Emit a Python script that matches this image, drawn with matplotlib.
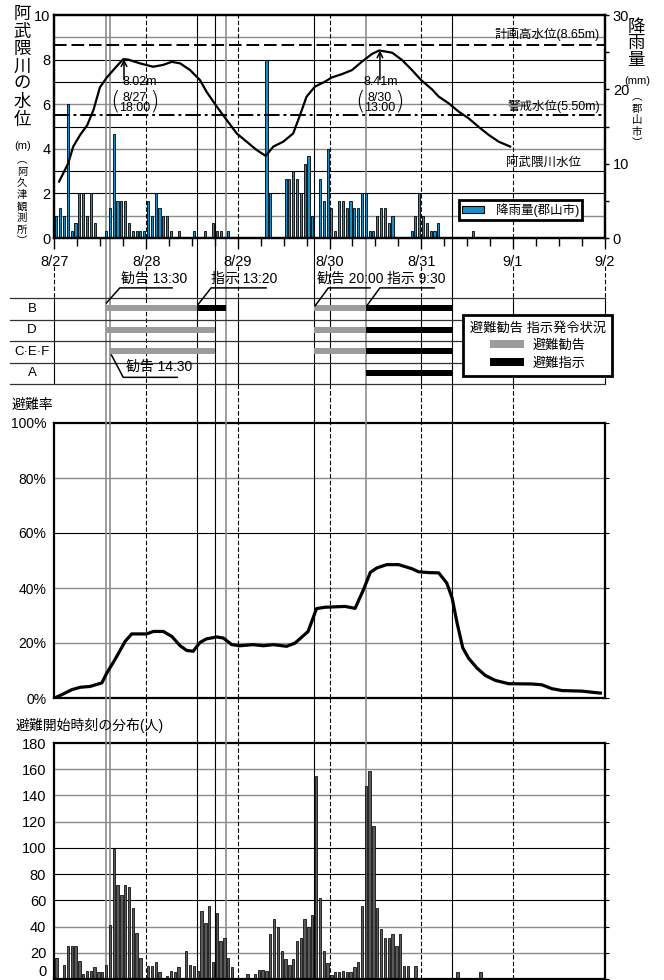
import matplotlib
matplotlib.use("Agg")
import matplotlib.pyplot as plt
from matplotlib.lines import Line2D
from matplotlib.patches import Patch
from matplotlib.transforms import blended_transform_factory

plt.rcParams["font.family"] = ["Liberation Sans", "Noto Sans CJK JP"]
plt.rcParams["axes.unicode_minus"] = False

W, H = 664, 980

# ------------------------------------------------------------------
# データ (時刻はすべて 8/27 0:00 からの経過時間[h])
# ------------------------------------------------------------------
day_labels = ["8/27", "8/28", "8/29", "8/30", "8/31", "9/1", "9/2"]

# 阿武隈川水位 (阿久津観測所) [m]
level_hours = [1.2, 3.6, 4.9, 6.7, 8.6, 10.2, 11.9, 13.7, 15.8, 18.0,
               19.3, 22.4, 25.8, 28.4, 30.7, 32.9, 35.5, 38.1, 39.8, 42.5,
               45.1, 46.4, 47.7, 50.3, 52.9, 55.3, 57.3, 59.9, 62.5, 64.3,
               66.0, 68.2, 70.8, 72.6, 75.3, 77.9, 80.5, 83.1, 85.0, 88.4,
               91.0, 93.6, 96.0, 98.8, 100.6, 103.2, 105.8, 108.4, 111.0, 113.7,
               116.3, 119.3]
level_m = [2.53, 3.35, 4.10, 4.62, 5.07, 5.74, 6.76, 7.20, 7.61, 8.02,
           8.00, 7.83, 7.68, 7.76, 7.90, 7.83, 7.53, 7.08, 6.56, 5.89,
           5.29, 4.99, 4.69, 4.32, 3.95, 3.68, 4.10, 4.32, 4.69, 5.52,
           6.34, 6.79, 7.01, 7.20, 7.35, 7.53, 7.91, 8.25, 8.41, 8.31,
           7.98, 7.53, 7.08, 6.67, 6.34, 6.04, 5.67, 5.37, 4.99, 4.62,
           4.32, 4.10]

# 時間降雨量 (郡山市) [mm]
rain_hours = [0, 1, 2, 3, 4, 5, 6, 7, 8, 9, 10,
              13, 14, 15, 16, 17, 18, 19, 20, 21, 22, 23, 24, 25, 26, 27, 28, 29, 30,
              32, 36, 39, 41, 42, 43, 45, 55, 56,
              60, 61, 62, 63, 64, 65, 66, 67,
              69, 70, 71, 72, 73, 74, 75, 76, 77, 78, 79, 80, 81, 82, 83, 84, 85, 86, 87, 88,
              93, 94, 95, 96, 97, 98, 99, 100, 109]
rain_mm = [3, 4, 3, 18, 1, 2, 6, 6, 3, 6, 2,
           1, 4, 14, 5, 5, 5, 2, 1, 1, 1, 1, 5, 3, 6, 4, 3, 3, 1,
           1, 1, 1, 2, 1, 1, 1, 24, 6,
           8, 8, 9, 8, 6, 10, 11, 3,
           8, 5, 12, 4, 1, 5, 5, 4, 5, 4, 4, 6, 6, 1, 1, 3, 4, 4, 2, 3,
           1, 3, 6, 3, 2, 1, 1, 2, 1]

# 避難率 [%]
rate_hours = [0, 1.9, 4.5, 6.7, 9.3, 12.4, 13.7, 15.8, 18.5, 20.2,
              24.1, 25.9, 28.5, 30.7, 32.9, 34.6, 36.3, 38.1, 39.8, 42.5,
              44.2, 46.4, 48.6, 52.0, 54.7, 57.3, 60.8, 63.0, 66.4, 68.6,
              70.8, 72.6, 76.1, 78.7, 80.9, 82.7, 84.4, 87.0, 90.1, 93.6,
              95.3, 98.0, 100.6, 102.7, 104.1, 105.4, 106.9, 108.4, 110.6, 112.8,
              115.4, 118.9, 125.0, 127.6, 130.2, 132.9, 138.1, 140.7, 142.9]
rate_pct = [0, 1.2, 3.0, 3.9, 4.2, 5.5, 9.1, 13.9, 20.6, 23.3,
            23.3, 24.2, 24.2, 22.4, 19.0, 17.3, 17.0, 20.2, 21.5, 22.2,
            21.8, 19.4, 19.0, 19.4, 19.0, 19.4, 18.8, 20.0, 24.2, 32.5,
            33.0, 33.1, 33.3, 32.6, 39.4, 45.7, 47.3, 48.5, 48.5, 47.0,
            45.9, 45.6, 45.5, 41.8, 36.4, 27.3, 18.2, 14.5, 10.9, 8.2,
            6.4, 5.2, 5.1, 4.8, 3.4, 2.7, 2.5, 2.1, 1.8]

# 避難開始時刻の分布 [人/時]
start_hours = [0, 2, 3, 4, 5, 6, 7, 8, 9, 10, 11, 12, 13, 14, 15, 16, 17, 18, 19, 20, 21, 22,
               24, 25, 26, 27, 29, 30, 31, 32, 34, 35, 36, 37, 38, 39, 40, 41, 42, 43, 44, 45, 46,
               50, 52, 53, 54, 55, 56, 57, 58, 59, 60, 61, 62, 63, 64, 65, 66, 67, 68, 69, 70, 71,
               72, 73, 74, 75, 76, 77, 78, 79, 80, 81, 82, 83, 84, 85, 86, 87, 88, 89, 90, 91, 92,
               94, 105, 111]
start_people = [16, 11, 25, 25, 25, 14, 4, 6, 6, 9, 5, 5, 11, 41, 99, 72, 64, 72, 70, 54, 35, 16,
                10, 10, 13, 5, 2, 6, 5, 9, 21, 11, 10, 6, 52, 43, 56, 13, 50, 29, 31, 16, 9,
                4, 4, 7, 7, 6, 34, 46, 40, 21, 15, 11, 15, 29, 31, 46, 40, 49, 155, 62, 21, 12,
                3, 5, 5, 6, 5, 5, 9, 13, 56, 147, 159, 117, 54, 38, 31, 31, 34, 25, 34, 10, 10,
                10, 5, 5]

# 避難勧告・指示の発令状況
area_rows = ["B", "D", "C·E·F", "A"]
advice_row = ["B", "D", "C·E·F", "B", "D", "C·E·F"]
advice_start = [13.5, 13.5, 14.5, 68, 68, 68]
advice_end = [37.33, 42, 42, 81.5, 81.5, 81.5]
order_row = ["B", "B", "D", "C·E·F", "A"]
order_start = [37.33, 81.5, 81.5, 81.5, 81.5]
order_end = [45, 104, 104, 104, 104]

# 縦の時刻線 (発令時刻など)
event_hours = [13.5, 14.5, 37.33, 42, 45, 68, 81.5, 104]
event_gray = [True, True, False, False, True, False, True, False]

BLUE = "#1890c6"
GRAY = "#8c8c8c"
BAR_GRAY = "#9b9b9b"

fig = plt.figure(figsize=(W / 100, H / 100), dpi=100)


def px_axes(x0, y0, x1, y1):
    return fig.add_axes([x0 / W, 1 - y1 / H, (x1 - x0) / W, (y1 - y0) / H])


def fy(y):
    return 1 - y / H


X0, X1 = 54.5, 604.5


def style_spines(ax):
    for s in ax.spines.values():
        s.set_linewidth(1.6)


def vlines_in(ax):
    for h in range(24, 144, 24):
        ax.axvline(h, color="black", lw=0.8, ls=(0, (4, 2)), zorder=0.6)
    for h, g in zip(event_hours, event_gray):
        ax.axvline(h, color=GRAY if g else "black", lw=1.2 if g else 0.8, zorder=0.6)


# ------------------------------------------------------------------
# 上段: 水位と降雨量
# ------------------------------------------------------------------
ax_lv = px_axes(X0, 15, X1, 238)
ax_rain = ax_lv.twinx()
ax_rain.set_zorder(1)
ax_lv.set_zorder(2)
ax_lv.patch.set_visible(False)
ax_rain.patch.set_visible(True)
ax_rain.patch.set_facecolor("white")

ax_lv.set_xlim(0, 144)
ax_lv.set_ylim(0, 10)
ax_rain.set_ylim(0, 30)

grid_gray = [True, False, False, True, False, True, False, False, True]
for k, g in zip(range(1, 10), grid_gray):
    ax_rain.axhline(k * 3, color=GRAY if g else "black", lw=1.0 if g else 0.8, zorder=0.5)
vlines_in(ax_rain)

rain_bars = ax_rain.bar([h + 0.5 for h in rain_hours], rain_mm, width=0.55, color=BLUE,
                        edgecolor="black", linewidth=0.6, zorder=2)

ax_lv.plot(level_hours, level_m, color="black", lw=1.6, zorder=3)
ax_lv.axhline(8.65, color="black", lw=1.4, ls=(0, (6.5, 2.5)), zorder=2)
ax_lv.axhline(5.5, color="black", lw=1.4, ls=(0, (8, 2, 1.5, 2)), zorder=2)

ax_lv.set_yticks(range(0, 11, 2))
ax_lv.tick_params(axis="y", length=0, pad=3, labelsize=10.5)
ax_lv.set_xticks(range(0, 145, 24))
ax_lv.set_xticklabels(day_labels)
ax_lv.set_xticks(range(0, 145, 6), minor=True)
ax_lv.tick_params(axis="x", which="major", direction="out", length=8, width=1, pad=4,
                  labelsize=10.5)
ax_lv.tick_params(axis="x", which="minor", direction="out", length=6, width=1)

ax_rain.set_yticks([0, 10, 20, 30])
ax_rain.set_yticks([5, 15, 25], minor=True)
ax_rain.tick_params(axis="y", which="both", direction="out", length=3, width=1, pad=3,
                    labelsize=10.5)
style_spines(ax_lv)
style_spines(ax_rain)

ax_lv.text(142.8, 9.15, "計画高水位(8.65m)", ha="right", va="center", fontsize=9)
ax_lv.text(142.8, 5.92, "警戒水位(5.50m)", ha="right", va="center", fontsize=9)
ax_lv.text(127.9, 3.38, "阿武隈川水位", ha="center", va="center", fontsize=9)

# ピーク注記
peaks = [(18.0, 8.02, "8.02m", "8/27", "18:00", 22.25, 16.0, 26.2),
         (85.0, 8.41, "8.41m", "8/30", "13:00", 85.5, 80.1, 90.2)]
for ph, pv, val, day, tm, tx, lpx, rpx in peaks:
    ax_lv.annotate("", xy=(ph + 0.2, pv), xytext=(ph + 0.2, 7.1),
                   arrowprops=dict(arrowstyle="->", color="black", lw=1.1,
                                   shrinkA=0, shrinkB=0), zorder=4)
    ax_lv.text(tx, 6.98, val, ha="center", va="center", fontsize=9)
    ax_lv.text((lpx + rpx) / 2, 6.3, day, ha="center", va="center", fontsize=9)
    ax_lv.text((lpx + rpx) / 2, 5.82, tm, ha="center", va="center", fontsize=9)
    ax_lv.text(lpx, 6.1, "(", ha="center", va="center", fontsize=18,
               family="DejaVu Sans", fontweight="light")
    ax_lv.text(rpx, 6.1, ")", ha="center", va="center", fontsize=18,
               family="DejaVu Sans", fontweight="light")

leg1 = ax_lv.legend([Patch(facecolor=BLUE, edgecolor="black", linewidth=0.8)],
                    ["降雨量(郡山市)"], loc="lower left",
                    bbox_to_anchor=((458.7 - X0) / (X1 - X0), (238 - 220) / 223),
                    borderaxespad=0, fontsize=9, handlelength=1.8, handleheight=0.45,
                    handletextpad=0.9, borderpad=0.25, fancybox=False, framealpha=1,
                    edgecolor="black")
leg1.get_frame().set_linewidth(2)

# 軸ラベル (縦書き)
def vtext(chars, x, y0, step, size):
    for i, c in enumerate(chars):
        fig.text(x / W, fy(y0 + i * step), c, ha="center", va="center", fontsize=size)


vtext("阿武隈川の水位", 22, 14, 17.6, 12.5)
fig.text(23 / W, fy(146), "(m)", ha="center", va="center", fontsize=8)
vtext("︵阿久津観測所︶", 22, 160, 11.6, 7.5)
vtext("降雨量", 636, 27, 16.5, 12.5)
fig.text(637 / W, fy(81), "(mm)", ha="center", va="center", fontsize=8)
vtext("︵郡山市︶", 637, 97, 11.5, 7.5)

# ------------------------------------------------------------------
# 中段: 避難勧告・指示
# ------------------------------------------------------------------
ax_mid = px_axes(X0, 298, X1, 384)
ax_mid.set_zorder(5)
ax_mid.patch.set_visible(False)
ax_mid.set_xlim(0, 144)
ax_mid.set_ylim(4, 0)
ax_mid.axis("off")

for i in range(5):
    ax_mid.plot([-11.6, 144], [i, i], color="#333333", lw=0.9, clip_on=False, zorder=1)
for i, name in enumerate(area_rows):
    ax_mid.text(-5.9, i + 0.5, name, ha="center", va="center", fontsize=9.5, clip_on=False)

row_pos = {name: i + 0.48 for i, name in enumerate(area_rows)}
ax_mid.barh([row_pos[r] for r in advice_row],
            [e - s for s, e in zip(advice_start, advice_end)], left=advice_start,
            height=0.28, color=BAR_GRAY, zorder=3)
ax_mid.barh([row_pos[r] for r in order_row],
            [e - s for s, e in zip(order_start, order_end)], left=order_start,
            height=0.28, color="black", zorder=3)

callouts = [("勧告 13:30", 17.4, -0.88, [(13.6, 0.23), (17.1, -0.47), (30.8, -0.47)]),
            ("指示 13:20", 41.0, -0.88, [(37.6, 0.3), (41.0, -0.47), (55.4, -0.47)]),
            ("勧告 20:00", 68.6, -0.88, [(68.2, 0.37), (71.7, -0.47), (82.6, -0.47)]),
            ("指示 9:30", 87.1, -0.88, [(81.9, 0.33), (85.2, -0.47), (99.4, -0.47)]),
            ("勧告 14:30", 18.6, 3.2, [(14.9, 2.65), (18.0, 3.69), (32.1, 3.69)])]
for txt, tx, ty, pts in callouts:
    ax_mid.text(tx, ty, txt, ha="left", va="center", fontsize=10, clip_on=False)
    ax_mid.plot([p[0] for p in pts], [p[1] for p in pts], color="black", lw=1.1,
                clip_on=False, zorder=4)

leg2 = ax_mid.legend([Patch(facecolor=BAR_GRAY), Patch(facecolor="black")],
                     ["避難勧告", "避難指示"], title="避難勧告 指示発令状況",
                     loc="lower left",
                     bbox_to_anchor=((463 - X0) / (X1 - X0), (384 - 376) / 86),
                     borderaxespad=0, fontsize=9.5, title_fontsize=9.5, handlelength=2.6,
                     handleheight=0.55, handletextpad=0.6, borderpad=0.5,
                     labelspacing=0.4, fancybox=False, framealpha=1, edgecolor="black")
leg2.get_frame().set_linewidth(2)
leg2.set_zorder(10)

# ------------------------------------------------------------------
# 避難率
# ------------------------------------------------------------------
ax_rate = px_axes(X0, 423, X1, 698)
ax_rate.set_xlim(0, 144)
ax_rate.set_ylim(0, 100)
for v, g in zip([20, 40, 60, 80], [True, True, False, True]):
    ax_rate.axhline(v, color=GRAY if g else "black", lw=1.0 if g else 0.8, zorder=0.5)
vlines_in(ax_rate)
ax_rate.plot(rate_hours, rate_pct, color="black", lw=2.3, zorder=3)
ax_rate.set_yticks(range(0, 101, 20))
ax_rate.set_yticklabels([f"{v}%" for v in range(0, 101, 20)])
ax_rate.set_xticks([])
ax_rate.tick_params(axis="y", left=False, right=True, direction="out", length=3,
                    pad=3, labelsize=10)
style_spines(ax_rate)
fig.text(12 / W, fy(405), "避難率", ha="left", va="center", fontsize=10)

# ------------------------------------------------------------------
# 避難開始時刻の分布
# ------------------------------------------------------------------
ax_hist = px_axes(X0, 743, X1, 979)
ax_hist.set_xlim(0, 144)
ax_hist.set_ylim(0, 180)
hist_gray = [True, True, False, False, False, True, True, True]
for v, g in zip(range(20, 180, 20), hist_gray):
    ax_hist.axhline(v, color=GRAY if g else "black", lw=1.0 if g else 0.8, zorder=0.5)
vlines_in(ax_hist)
ax_hist.bar([h + 0.5 for h in start_hours], start_people, width=0.62, color="#5a5a5a",
            edgecolor="#111111", linewidth=0.6, zorder=2)
ax_hist.set_yticks(range(0, 181, 20))
ax_hist.set_xticks([])
ax_hist.tick_params(axis="y", left=False, right=True, direction="out", length=3,
                    pad=3, labelsize=10.5)
# 一番下の "0" は画像の端で切れないように少し上げる
ax_hist.get_yticklabels()[0].set_verticalalignment("bottom")
style_spines(ax_hist)
fig.text(16 / W, fy(725), "避難開始時刻の分布(人)", ha="left", va="center", fontsize=10)

# ------------------------------------------------------------------
# パネル間をつなぐ縦線
# ------------------------------------------------------------------
trans = blended_transform_factory(ax_lv.transData, fig.transFigure)


def vseg(h, y0, y1, **kw):
    fig.add_artist(Line2D([h, h], [fy(y0), fy(y1)], transform=trans, zorder=1, **kw))


for h, g in zip(event_hours, event_gray):
    kw = dict(color=GRAY if g else "black", lw=1.2 if g else 0.8)
    vseg(h, 238, 423, **kw)
    vseg(h, 698, 743, **kw)

dash = dict(color="black", lw=0.8, ls=(0, (4, 2)))
for h in range(0, 145, 24):
    vseg(h, 266, 298, **dash)
    if h == 24:
        vseg(h, 298, 384, **dash)
    else:
        vseg(h, 298, 384, color="black", lw=0.8)
    if 0 < h < 144:
        vseg(h, 384, 423, **dash)
        vseg(h, 698, 743, **dash)

fig.savefig("out.png", dpi=100)
